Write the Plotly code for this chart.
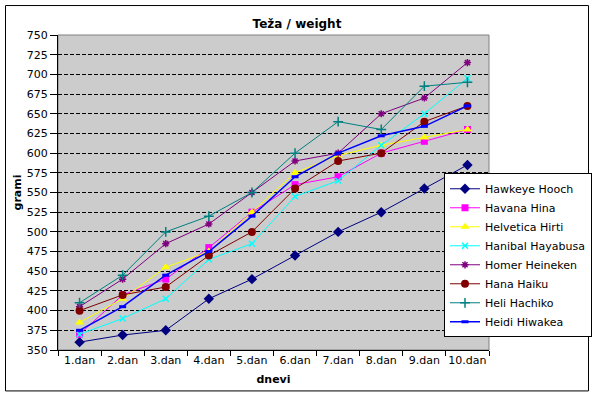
import plotly.graph_objects as go

categories = ["1.dan", "2.dan", "3.dan", "4.dan", "5.dan", "6.dan", "7.dan", "8.dan", "9.dan", "10.dan"]

hawkeye_hooch = [360, 369, 375, 415, 440, 470, 500, 525, 555, 585]
havana_hina = [370, 420, 440, 480, 525, 560, 570, 600, 615, 630]
helvetica_hirti = [385, 415, 455, 475, 525, 575, 597, 610, 620, 630]
hanibal_hayabusa = [370, 390, 415, 465, 485, 545, 565, 610, 650, 695]
homer_heineken = [405, 440, 485, 510, 550, 590, 600, 650, 670, 715]
hana_haiku = [400, 420, 430, 470, 500, 555, 590, 600, 640, 660]
heli_hachiko = [410, 445, 500, 520, 550, 600, 640, 630, 685, 690]
heidi_hiwakea = [375, 405, 445, 475, 520, 570, 600, 622, 634, 660]

series = [
    ("Hawkeye Hooch", hawkeye_hooch, "#000080", "diamond", 8, 1),
    ("Havana Hina", havana_hina, "#FF00FF", "square", 7, 1),
    ("Helvetica Hirti", helvetica_hirti, "#FFFF00", "triangle-up", 8, 1),
    ("Hanibal Hayabusa", hanibal_hayabusa, "#00FFFF", "x-thin", 6, 1),
    ("Homer Heineken", homer_heineken, "#800080", "asterisk", 6, 1),
    ("Hana Haiku", hana_haiku, "#800000", "circle", 8, 1),
    ("Heli Hachiko", heli_hachiko, "#008080", "cross-thin", 7, 1),
    ("Heidi Hiwakea", heidi_hiwakea, "#0000FF", "line-ew", 5, 1.5),
]

fig = go.Figure()
for name, vals, color, sym, size, lw in series:
    marker = dict(symbol=sym, size=size, color=color)
    if sym in ("x-thin", "asterisk", "cross-thin", "line-ew"):
        marker["line"] = dict(color=color, width=1.5 if sym != "line-ew" else 3)
    fig.add_trace(go.Scatter(
        x=categories, y=vals, name=name, mode="lines+markers",
        line=dict(color=color, width=lw), marker=marker,
    ))

font = "Liberation Sans, Arial, sans-serif"
wide = "DejaVu Sans, Liberation Sans, sans-serif"

W, H = 594, 396
L, R, T, B = 58, 489, 35, 350.5
pw, ph = R - L, B - T

fig.update_layout(
    width=W, height=H,
    margin=dict(l=L, r=W - R, t=T, b=H - B, autoexpand=False),
    paper_bgcolor="white",
    plot_bgcolor="#CCCCCC",
    font=dict(family=font, size=11, color="black"),
    title=dict(text="<b>Teža / weight</b>", x=0.5, xanchor="center", y=1 - 24 / H, yanchor="middle",
               font=dict(size=12, family=wide)),
    showlegend=True,
    legend=dict(x=(444 - L) / pw, y=(B - 173.5) / ph, xanchor="left", yanchor="top",
                bgcolor="white", bordercolor="black", borderwidth=1,
                font=dict(size=11, family=wide), tracegroupgap=0,
                itemwidth=30),
    xaxis=dict(
        type="category", tickson="boundaries", ticks="outside", ticklen=5, tickcolor="black",
        showline=True, linecolor="black", linewidth=1, mirror=False, showgrid=False,
        tickangle=0,
        tickfont=dict(size=11, family=wide), title=dict(text="<b>dnevi</b>", standoff=9, font=dict(size=11, family=wide)),
        range=[-0.5, 9.5],
    ),
    yaxis=dict(
        range=[350, 750], dtick=25, tick0=350, ticks="outside", ticklen=7, tickcolor="black",
        showline=True, linecolor="black", linewidth=1, showgrid=True, gridcolor="black",
        griddash="4px,2px", gridwidth=1, zeroline=False, tickfont=dict(size=11, family=wide),
        title=dict(text="<b>grami</b>", standoff=2, font=dict(size=11, family=wide)),
    ),
    shapes=[
        dict(type="rect", xref="paper", yref="paper", x0=0, y0=0, x1=1, y1=1,
             line=dict(color="#808080", width=1), layer="below", fillcolor="rgba(0,0,0,0)"),
        dict(type="rect", xref="paper", yref="paper", layer="above",
             x0=(5.5 - L) / pw, x1=(588.5 - L) / pw, y0=(B - 391.5) / ph, y1=(B - 5.5) / ph,
             line=dict(color="black", width=1), fillcolor="rgba(0,0,0,0)"),
    ],
)

fig.write_html(
    "out.html",
    config={"displayModeBar": False},
    post_script="document.body.style.margin='0';document.body.style.overflow='hidden';",
)
